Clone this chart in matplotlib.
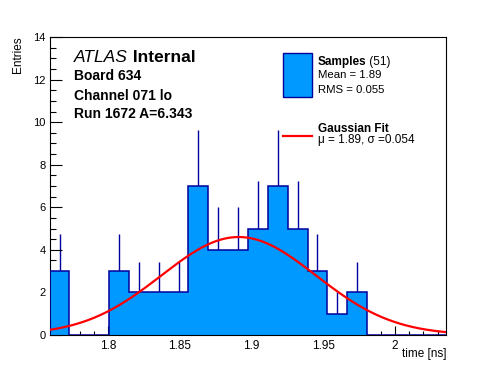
import numpy as np
import matplotlib
matplotlib.use("Agg")
import matplotlib.pyplot as plt
from matplotlib.patches import Rectangle
from matplotlib.lines import Line2D
from matplotlib.ticker import MultipleLocator

# ---- data ----
x_min, x_max = 1.759, 2.036
counts = [3, 0, 0, 3, 2, 2, 2, 7, 4, 4, 5, 7, 5, 3, 1, 2, 0, 0, 0, 0]
fit_mu = 1.891
fit_sigma = 0.054
fit_amp = 4.6
n_samples = 51
x_ticks = [1.8, 1.85, 1.9, 1.95, 2.0]
x_tick_labels = ["1.8", "1.85", "1.9", "1.95", "2"]
y_ticks = [0, 2, 4, 6, 8, 10, 12, 14]

W, H = 496, 372
plt.rcParams['font.family'] = ['Liberation Sans', 'DejaVu Sans']
fig = plt.figure(figsize=(W / 100, H / 100), dpi=100)
fig.patch.set_facecolor('white')


def px(x, y):
    return x / W, 1 - y / H


ax = fig.add_axes([0.1, 0.1, 0.8, 0.8])
fill_c = '#0099ff'
edge_c = '#00009e'

counts = np.array(counts, dtype=float)
edges = np.linspace(x_min, x_max, len(counts) + 1)
centers = 0.5 * (edges[:-1] + edges[1:])
mask = counts > 0
err = np.sqrt(counts)
ax.vlines(centers[mask], (counts - err)[mask], (counts + err)[mask],
          color=edge_c, lw=1.0, zorder=1)
ax.stairs(counts, edges, fill=True, color=fill_c, zorder=2)
ax.stairs(counts, edges, color=edge_c, lw=1.1, zorder=3)

xf = np.linspace(x_min, x_max, 400)
yf = fit_amp * np.exp(-0.5 * ((xf - fit_mu) / fit_sigma) ** 2)
ax.plot(xf, yf, color='#ff0000', lw=1.6, zorder=4)

ax.set_xlim(x_min, x_max)
ax.set_ylim(0, 14)
ax.set_xticks(x_ticks)
ax.set_xticklabels(x_tick_labels)
ax.set_yticks(y_ticks)
ax.xaxis.set_minor_locator(MultipleLocator(0.01))
ax.yaxis.set_minor_locator(MultipleLocator(0.5))
ax.tick_params(axis='x', which='major', direction='in', length=6.5, width=0.8,
               labelsize=8.5, pad=3.5)
ax.tick_params(axis='x', which='minor', direction='in', length=3.2, width=0.8)
ax.tick_params(axis='y', which='major', direction='in', length=8.6, width=0.8,
               labelsize=8, pad=3)
ax.tick_params(axis='y', which='minor', direction='in', length=4.3, width=0.8)
for s in ax.spines.values():
    s.set_linewidth(0.8)

fig.text(*px(18.5, 36.5), 'Entries', rotation=90, ha='center', va='top', fontsize=8.5)
fig.text(*px(446, 354), 'time [ns]', ha='right', va='center', fontsize=8.5)

# ATLAS label
t1 = fig.text(*px(74, 58), 'ATLAS', style='italic', fontsize=12.5, va='center')
fig.canvas.draw()
ax.annotate(' Internal', xy=(1, 0.5), xycoords=t1, va='center', ha='left',
            fontsize=12.5, fontweight='bold')
fig.text(*px(74, 76), 'Board 634', fontsize=10, fontweight='bold', va='center')
fig.text(*px(74, 95.5), 'Channel 071 lo', fontsize=10, fontweight='bold', va='center')
fig.text(*px(74, 114.5), 'Run 1672 A=6.343', fontsize=10, fontweight='bold', va='center')

# legend
x0, y0 = px(283.3, 96.7)
x1, y1 = px(311.7, 53.3)
fig.add_artist(Rectangle((x0, y0), x1 - x0, y1 - y0, transform=fig.transFigure,
                         facecolor=fill_c, edgecolor=edge_c, lw=1.0))
ts = fig.text(*px(317.5, 61.7), 'Samples', fontsize=8.5, fontweight='bold', va='center')
ax.annotate(' (%d)' % n_samples, xy=(1, 0.5), xycoords=ts, va='center', ha='left', fontsize=8.5)
fig.text(*px(317.5, 74.5), 'Mean = 1.89', fontsize=8.2, va='center')
fig.text(*px(317.5, 90.3), 'RMS = 0.055', fontsize=8.2, va='center')
lx0, ly = px(283, 136)
lx1, _ = px(312, 136)
fig.add_artist(Line2D([lx0, lx1], [ly, ly], transform=fig.transFigure, color='#ff0000', lw=1.6))
fig.text(*px(317.5, 129), 'Gaussian Fit', fontsize=8.5, fontweight='bold', va='center')
fig.text(*px(317.5, 140.5), 'μ = 1.89, σ =0.054', fontsize=8.5, va='center')

fig.savefig('out.png', dpi=100)
